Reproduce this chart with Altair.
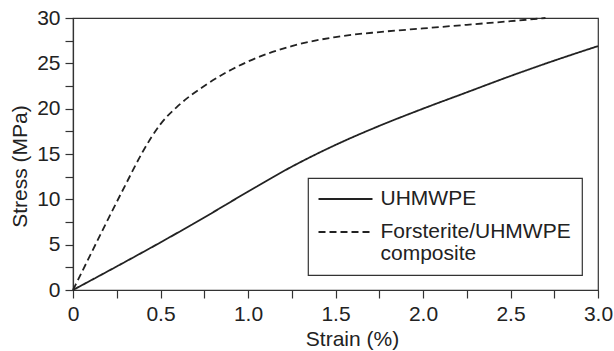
import altair as alt
import pandas as pd

# UHMWPE (solid)
strain_uhmwpe = [0, 0.25, 0.5, 0.75, 1.0, 1.25, 1.5, 1.75, 2.0, 2.25, 2.5, 2.75, 3.0]
stress_uhmwpe = [0, 2.6, 5.25, 8.0, 10.85, 13.6, 16.0, 18.1, 20.0, 21.8, 23.6, 25.3, 26.9]

# Forsterite/UHMWPE composite (dashed)
strain_comp = [0, 0.1, 0.2, 0.3, 0.4, 0.5, 0.6, 0.75, 1.0, 1.25, 1.5, 1.75, 2.0, 2.25, 2.5, 2.7]
stress_comp = [0, 3.9, 7.8, 11.6, 15.3, 18.3, 20.3, 22.5, 25.2, 26.9, 27.9, 28.45, 28.85, 29.25, 29.65, 30.0]

series_names = ["UHMWPE", "Forsterite/UHMWPE\ncomposite"]
x_ticks = [0, 0.25, 0.5, 0.75, 1.0, 1.25, 1.5, 1.75, 2.0, 2.25, 2.5, 2.75, 3.0]
y_ticks = [0, 2.5, 5, 7.5, 10, 12.5, 15, 17.5, 20, 22.5, 25, 27.5, 30]

df = pd.concat([
    pd.DataFrame({"strain": strain_uhmwpe, "stress": stress_uhmwpe, "series": series_names[0]}),
    pd.DataFrame({"strain": strain_comp, "stress": stress_comp, "series": series_names[1]}),
])

FONT = "Liberation Sans"
INK = "#222222"
FS = 21

chart = alt.Chart(df).mark_line(
    interpolate="monotone", strokeWidth=1.8, color=INK
).encode(
    x=alt.X("strain:Q",
            scale=alt.Scale(domain=[0, 3], nice=False, zero=True),
            axis=alt.Axis(values=x_ticks, title="Strain (%)",
                          labelExpr="datum.value % 0.5 == 0 ? (datum.value == 0 ? '0' : format(datum.value, '.1f')) : ''",
                          labelFlush=False, labelOverlap=False,
                          titleX=279, titleY=55, titleBaseline="alphabetic")),
    y=alt.Y("stress:Q",
            scale=alt.Scale(domain=[0, 30], nice=False, zero=True),
            axis=alt.Axis(values=y_ticks, title="Stress (MPa)",
                          labelExpr="datum.value % 5 == 0 ? format(datum.value, 'd') : ''",
                          labelOverlap=False,
                          titleX=-47, titleY=148, titleBaseline="alphabetic")),
    strokeDash=alt.StrokeDash("series:N",
                              scale=alt.Scale(domain=series_names, range=[[1, 0], [7, 4]]),
                              legend=alt.Legend(title=None, orient="none", legendX=235, legendY=160,
                                                labelExpr="split(datum.label, '\\n')")),
).properties(
    width=525, height=272,
    autosize=alt.AutoSizeParams(type="none"),
    padding={"left": 73, "top": 18, "right": 16, "bottom": 61},
).configure_view(
    stroke="#333333", strokeWidth=1.2
).configure_axis(
    grid=False, domainColor="#333333", domainWidth=1.2,
    tickColor="#333333", tickWidth=1.2, tickSize=8,
    labelFont=FONT, labelFontSize=FS, labelColor=INK, labelPadding=5,
    titleFont=FONT, titleFontSize=FS, titleColor=INK, titleFontWeight="normal",
).configure_legend(
    strokeColor="#333333", strokeWidth=1.2, fillColor="white", padding=10.5,
    symbolType="M-1.1667,0H4.8333", symbolSize=324, symbolStrokeWidth=1.8,
    symbolStrokeColor=INK, symbolFillColor="transparent",
    labelFont=FONT, labelFontSize=FS, labelColor=INK, labelOffset=41, labelLimit=400,
    rowPadding=11,
)
chart.config.style = {"guide-label": {"lineHeight": 22}}

chart.save("out.html", embed_options={"renderer": "svg", "actions": False})
